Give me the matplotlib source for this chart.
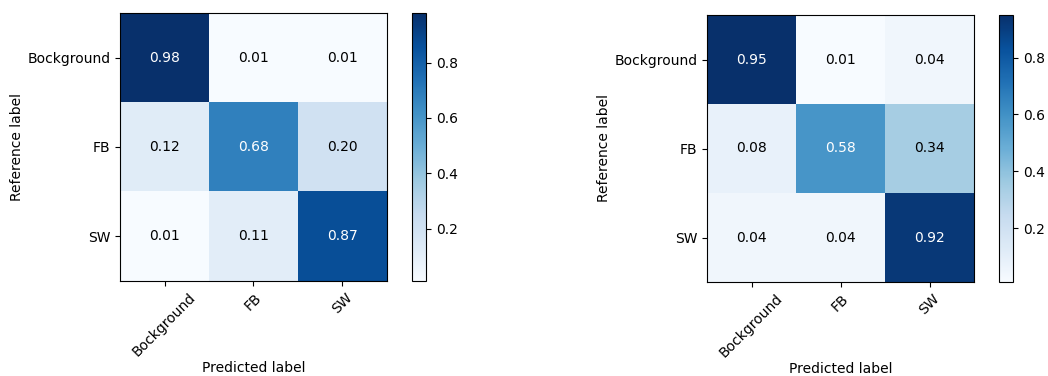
import numpy as np
import matplotlib
matplotlib.use('Agg')
import matplotlib.pyplot as plt

classes = ['Bockground', 'FB', 'SW']

# normalized confusion matrices (rows = reference, cols = predicted)
cm_left = [[0.98, 0.01, 0.01],
           [0.12, 0.68, 0.20],
           [0.01, 0.11, 0.87]]
cm_right = [[0.95, 0.01, 0.04],
            [0.08, 0.58, 0.34],
            [0.04, 0.04, 0.92]]

W, H = 1048, 376
fig = plt.figure(figsize=(W / 100, H / 100), dpi=100)


def px(x0, y0, x1, y1):
    return [x0 / W, 1 - y1 / H, (x1 - x0) / W, (y1 - y0) / H]


def draw_cm(ax, cax, cm):
    cm = np.array(cm)
    im = ax.imshow(cm, interpolation='nearest', cmap=plt.cm.Blues, aspect='auto')
    cb = fig.colorbar(im, cax=cax)
    cb.set_ticks([0.2, 0.4, 0.6, 0.8])
    cb.ax.tick_params(labelsize=10)
    ticks = np.arange(len(classes))
    ax.set_xticks(ticks)
    ax.set_xticklabels(classes, rotation=45, fontsize=10)
    ax.set_yticks(ticks)
    ax.set_yticklabels(classes, fontsize=10)
    thresh = cm.max() / 2.
    for i in range(cm.shape[0]):
        for j in range(cm.shape[1]):
            ax.text(j, i, format(cm[i, j], '.2f'), ha='center', va='center',
                    fontsize=10,
                    color='white' if cm[i, j] > thresh else 'black')
    ax.set_ylabel('Reference label', fontsize=10, labelpad=2)
    ax.set_xlabel('Predicted label', fontsize=10, labelpad=1)


ax1 = fig.add_axes(px(120, 13, 387, 281))
cax1 = fig.add_axes(px(412, 13, 426, 281))
draw_cm(ax1, cax1, cm_left)

ax2 = fig.add_axes(px(707, 15, 974, 282))
cax2 = fig.add_axes(px(999, 15, 1013, 282))
draw_cm(ax2, cax2, cm_right)

fig.savefig('out.png', dpi=100)
